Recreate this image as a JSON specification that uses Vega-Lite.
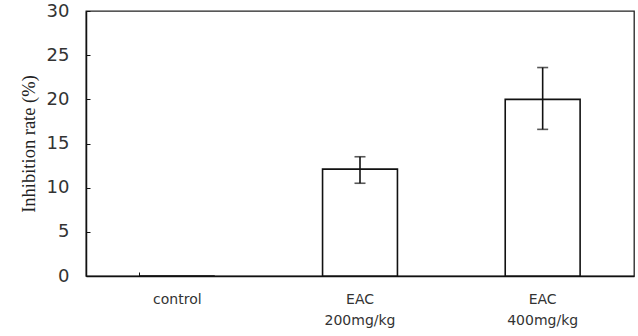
{
  "$schema": "https://vega.github.io/schema/vega-lite/v6.json",
  "width": 548,
  "height": 265,
  "autosize": "none",
  "padding": {"left": 86, "top": 11, "right": 4, "bottom": 60},
  "background": "white",
  "config": {
    "view": {"stroke": "#222", "strokeWidth": 1.3},
    "axis": {"grid": false, "domainColor": "#111", "tickColor": "#111", "labelColor": "#333", "titleColor": "#222"}
  },
  "data": {
    "values": [
      {"group": "control", "rate": 0, "lo": null, "hi": null},
      {"group": "EAC|200mg/kg", "rate": 12.1, "lo": 10.5, "hi": 13.5},
      {"group": "EAC|400mg/kg", "rate": 20.0, "lo": 16.6, "hi": 23.6}
    ]
  },
  "encoding": {
    "x": {
      "field": "group", "type": "nominal", "sort": null,
      "scale": {"paddingInner": 0.59, "paddingOuter": 0.295},
      "axis": {
        "title": null, "labelAngle": 0, "bandPosition": 0,
        "tickSize": -4, "labelPadding": 20,
        "labelFont": "DejaVu Sans", "labelFontSize": 14, "labelLineHeight": 21,
        "labelExpr": "split(datum.label, '|')",
        "domainWidth": 1.5
      }
    }
  },
  "layer": [
    {
      "mark": {"type": "bar", "fill": "white", "stroke": "#111", "strokeWidth": 1.6},
      "encoding": {
        "y": {
          "field": "rate", "type": "quantitative",
          "scale": {"domain": [0, 30], "nice": false},
          "axis": {
            "title": "Inhibition rate (%)", "titleFont": "Liberation Serif", "titleFontSize": 18.5, "titleFontWeight": "normal", "titlePadding": 8,
            "values": [0, 5, 10, 15, 20, 25, 30], "tickSize": -4, "labelPadding": 21,
            "labelFont": "DejaVu Sans", "labelFontSize": 18, "domainWidth": 1.5
          }
        }
      }
    },
    {
      "transform": [{"filter": "datum.lo != null"}],
      "mark": {"type": "rule", "color": "#111", "strokeWidth": 1.6},
      "encoding": {
        "y": {"field": "lo", "type": "quantitative"},
        "y2": {"field": "hi"}
      }
    },
    {
      "transform": [{"filter": "datum.lo != null"}],
      "mark": {"type": "tick", "color": "#111", "size": 11, "thickness": 1.6},
      "encoding": {"y": {"field": "lo", "type": "quantitative"}}
    },
    {
      "transform": [{"filter": "datum.lo != null"}],
      "mark": {"type": "tick", "color": "#111", "size": 11, "thickness": 1.6},
      "encoding": {"y": {"field": "hi", "type": "quantitative"}}
    }
  ]
}
